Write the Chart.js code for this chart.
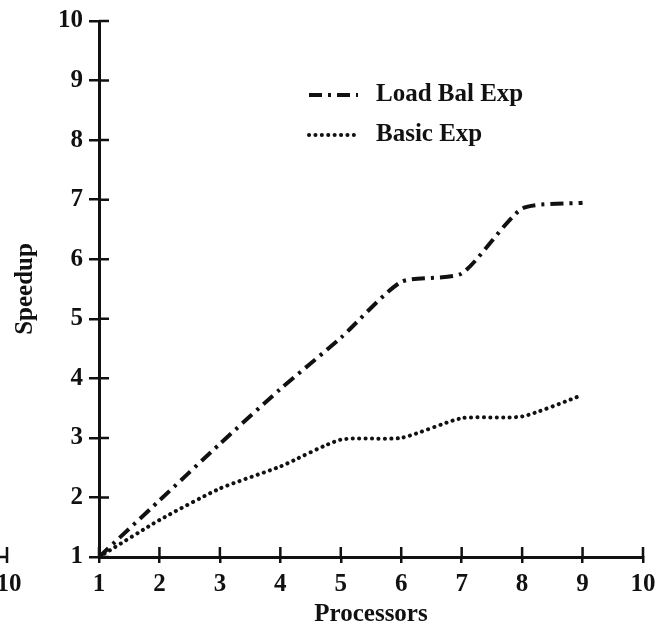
<!DOCTYPE html>
<html>
<head>
<meta charset="utf-8">
<script src="https://cdn.jsdelivr.net/npm/chart.js@4/dist/chart.umd.min.js"></script>
<style>
  html, body { margin: 0; padding: 0; background: #fff; }
  #wrap { width: 666px; height: 630px; position: relative; }
</style>
</head>
<body>
<div id="wrap"><canvas id="speedupChart"></canvas></div>
<script>
const processors = [1, 2, 3, 4, 5, 6, 7, 8, 9];
const loadBalExp = [1, 1.95, 2.9, 3.82, 4.68, 5.62, 5.76, 6.85, 6.95];
const basicExp = [1, 1.62, 2.15, 2.52, 2.97, 3.0, 3.33, 3.36, 3.72];
const xTicks = [1, 2, 3, 4, 5, 6, 7, 8, 9, 10];
const yTicks = [1, 2, 3, 4, 5, 6, 7, 8, 9, 10];

const ink = '#111';
const serif = 'Liberation Serif';
const fontSize = 25;

// ticks that cross the axis (inner half) plus the odd stray "10" at the far left
const crossTicks = {
    id: 'crossTicks',
    afterDraw(chart) {
        const ctx = chart.ctx;
        const a = chart.chartArea;
        const xs = chart.scales.x, ys = chart.scales.y;
        ctx.save();
        ctx.strokeStyle = ink;
        ctx.lineWidth = 2.5;
        ctx.beginPath();
        xTicks.forEach(v => {
            const px = xs.getPixelForValue(v);
            ctx.moveTo(px, a.bottom);
            ctx.lineTo(px, a.bottom - 10);
        });
        yTicks.forEach(v => {
            const py = ys.getPixelForValue(v);
            ctx.moveTo(a.left, py);
            ctx.lineTo(a.left + 10, py);
        });
        // stray tick
        ctx.moveTo(7, a.bottom - 10);
        ctx.lineTo(7, a.bottom + 6);
        ctx.moveTo(0, a.bottom);
        ctx.lineTo(7, a.bottom);
        ctx.stroke();
        ctx.fillStyle = ink;
        ctx.font = 'bold ' + fontSize + 'px "' + serif + '"';
        ctx.textAlign = 'center';
        ctx.textBaseline = 'top';
        ctx.fillText('10', 9, a.bottom + 15);

        // legend
        const items = chart.data.datasets;
        ctx.textAlign = 'left';
        ctx.textBaseline = 'middle';
        items.forEach((ds, i) => {
            const y = 95 + i * 40;
            ctx.beginPath();
            ctx.setLineDash(ds.borderDash);
            ctx.lineCap = ds.borderCapStyle;
            ctx.lineWidth = ds.borderWidth;
            ctx.moveTo(309, y);
            ctx.lineTo(358, y);
            ctx.stroke();
            ctx.setLineDash([]);
            ctx.fillText(ds.label, 376, y);
        });
        ctx.restore();
    }
};

new Chart(document.getElementById('speedupChart'), {
    type: 'line',
    data: {
        labels: processors,
        datasets: [{
            label: 'Load Bal Exp',
            data: processors.map((p, i) => ({ x: p, y: loadBalExp[i] })),
            borderColor: ink,
            borderWidth: 4,
            borderDash: [13, 6, 3, 6],
            borderCapStyle: 'butt',
            pointRadius: 0,
            tension: 0.2,
            fill: false
        }, {
            label: 'Basic Exp',
            data: processors.map((p, i) => ({ x: p, y: basicExp[i] })),
            borderColor: ink,
            borderWidth: 4,
            borderDash: [0.1, 6.3],
            borderCapStyle: 'round',
            pointRadius: 0,
            tension: 0.2,
            fill: false
        }]
    },
    options: {
        responsive: true,
        maintainAspectRatio: false,
        animation: false,
        layout: { padding: { top: 19, right: 23, left: 0, bottom: 0 } },
        plugins: {
            legend: { display: false },
            tooltip: { enabled: false }
        },
        scales: {
            x: {
                type: 'linear',
                min: 1,
                max: 10,
                afterBuildTicks: s => { s.ticks = xTicks.map(v => ({ value: v })); },
                afterFit: s => { s.height = 73; },
                border: { color: ink, width: 3 },
                grid: { drawOnChartArea: false, tickLength: 6, color: ink, lineWidth: 2.5 },
                ticks: {
                    color: ink,
                    padding: 7,
                    font: { family: serif, size: fontSize, weight: 'bold' }
                },
                title: {
                    display: true,
                    text: 'Processors',
                    color: ink,
                    padding: { top: 0, bottom: 0 },
                    font: { family: serif, size: fontSize, weight: 'bold' }
                }
            },
            y: {
                type: 'linear',
                min: 1,
                max: 10,
                afterBuildTicks: s => { s.ticks = yTicks.map(v => ({ value: v })); },
                afterFit: s => { s.width = 99; },
                border: { color: ink, width: 3 },
                grid: { drawOnChartArea: false, tickLength: 10, color: ink, lineWidth: 2.5 },
                ticks: {
                    color: ink,
                    padding: 6,
                    font: { family: serif, size: fontSize, weight: 'bold' }
                },
                title: {
                    display: true,
                    text: 'Speedup',
                    color: ink,
                    padding: { top: 11 },
                    font: { family: serif, size: fontSize, weight: 'bold' }
                }
            }
        }
    },
    plugins: [crossTicks]
});
</script>
</body>
</html>
